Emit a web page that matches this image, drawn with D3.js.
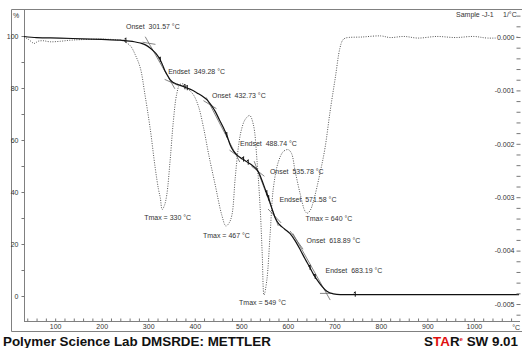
<!DOCTYPE html>
<html>
<head>
<meta charset="utf-8">
<script src="https://cdn.jsdelivr.net/npm/d3@7"></script>
<style>
  body { margin: 0; background: #fff; }
  svg { display: block; font-family: "Liberation Sans", Arial, sans-serif; }
  .ann { font-size: 7px; fill: #333; }
  .tick text { font-size: 7px; fill: #333; font-family: "Liberation Sans", Arial, sans-serif; }
  .tick line { stroke: #777; }
  .right .tick text { stroke: #fff; stroke-width: 3px; paint-order: stroke; }
</style>
</head>
<body>
<div id="chart"></div>
<script>
// TGA / DTG curve of sample J-1

// weight loss curve (%)
const tgaTemp = [33, 60, 110, 160, 200, 240, 254, 270, 283, 295, 304, 312, 318.6, 325.8, 331, 336.5, 342, 347, 354, 361.6,
  372, 383, 394, 404.7, 416, 426, 435, 444, 453, 462, 469, 476, 483, 490.6, 503, 515.6, 525, 533.6, 539, 544,
  551, 558.7, 566, 573, 582, 593, 605, 616, 626.8, 637, 648, 655, 662.7, 673, 684, 698, 712.8, 750, 900, 1097];
const tgaWeight = [99.8, 99.4, 99.2, 98.9, 98.7, 98.4, 98.1, 97.8, 97.3, 96.5, 95.4, 94.1, 92.8, 90.9, 88.8, 86.4, 84.7, 83.2, 82.1, 81.5,
  80.8, 80.0, 79.2, 78.1, 76.9, 75.5, 73.5, 71.0, 67.8, 64.6, 61.8, 58.2, 55.8, 54.3, 52.7, 51.2, 50.0, 48.6, 46.9, 44.7,
  41.3, 37.7, 33.6, 30.0, 27.5, 25.8, 24.0, 21.2, 17.8, 14.3, 10.8, 8.4, 6.3, 3.8, 1.8, 0.8, 0.5, 0.5, 0.5, 0.5];

// derivative curve (1/°C)
const dtgTemp = [33, 42, 55, 63, 74, 89, 111, 132, 154, 197, 229, 246, 254, 263, 272, 283, 293, 304, 315, 322,
  326, 330, 335, 340, 347, 354, 361, 368, 376, 383, 397, 408, 419, 430, 444, 458, 467, 474, 480, 487,
  494, 500, 508, 518, 526, 534, 541, 545, 549, 555, 562, 569, 580, 591, 601, 608, 616, 627, 637, 642,
  648, 655, 670, 680, 691, 702, 712, 718, 724, 760, 800, 820, 850, 880, 920, 960, 1000, 1030, 1097];
const dtgRate = [0, -0.00004, -0.00012, -0.00008, -0.00007, -0.00009, -0.00008, -0.00006, -0.00005, -0.00004, -0.00005, -0.00007, -0.00011, -0.00018, -0.00033, -0.00058, -0.00108, -0.00170, -0.00245, -0.00285,
  -0.00301, -0.00323, -0.00315, -0.00295, -0.00232, -0.00158, -0.00108, -0.00089, -0.00088, -0.00095, -0.00108, -0.00130, -0.00170, -0.00220, -0.00277, -0.00333, -0.00354, -0.00348, -0.00333, -0.00264,
  -0.00205, -0.00175, -0.00155, -0.00147, -0.00164, -0.00233, -0.00326, -0.00405, -0.00483, -0.00455, -0.00370, -0.00283, -0.00233, -0.00214, -0.00211, -0.00218, -0.00252, -0.00295, -0.00326, -0.00330,
  -0.00325, -0.00308, -0.00252, -0.00208, -0.00139, -0.00077, -0.00021, -0.00006, -0.00002, 0, 0.00002, -0.00001, 0.00001, -0.00002, 0.00001, -0.00001, 0.00001, -0.00002, 0];

// step evaluation
const onsetTemps = [301.57, 432.73, 535.78, 618.89];
const endsetTemps = [349.28, 488.74, 571.58, 683.19];
const onsetWeight = [97.2, 73.6, 48.0, 21.5];
const endsetWeight = [82.2, 54.3, 30.8, 1.0];
const slopeBefore = [-0.03, -0.11, -0.14, -0.25];
const slopeAfter = [-0.08, -0.13, -0.19, 0];
const tmaxTemps = [330, 467, 549, 640];
const markTemps = [252, 326, 379, 384, 469, 505, 515, 555, 559, 648, 659, 745];

const xTickLabels = [100, 200, 300, 400, 500, 600, 700, 800, 900, 1000];

const W = 522, H = 348;
const svg = d3.select('#chart').append('svg')
  .attr('width', W)
  .attr('height', H);

const x = d3.scaleLinear().domain([33, 1097]).range([24, 519]);
const yW = d3.scaleLinear().domain([0, 100]).range([296, 36]);
const yD = d3.scaleLinear().domain([-0.005, 0]).range([304, 37]);

const interp = (xs, ys, t) => {
  const i = Math.max(1, Math.min(xs.length - 1, d3.bisectLeft(xs, t)));
  const f = (t - xs[i - 1]) / (xs[i] - xs[i - 1]);
  return ys[i - 1] + f * (ys[i] - ys[i - 1]);
};

// frame
const frame = svg.append('g').attr('stroke', '#808080').attr('fill', 'none');
frame.append('path').attr('d', 'M522,9.5H11.5V331.5H522');
frame.append('line').attr('x1', 24.5).attr('x2', 24.5).attr('y1', 9).attr('y2', 321);
frame.append('line').attr('x1', 24).attr('x2', 520).attr('y1', 321.5).attr('y2', 321.5);

// x axis (ticks every 20 °C pointing up)
const xAxis = svg.append('g')
  .attr('transform', 'translate(0,321.5)')
  .call(d3.axisBottom(x)
    .tickValues(d3.range(40, 1097, 20))
    .tickSizeInner(-3).tickSizeOuter(0).tickPadding(3)
    .tickFormat(d => xTickLabels.includes(d) ? d : ''));
xAxis.select('.domain').remove();
svg.append('text').attr('class', 'ann').attr('x', 520).attr('y', 330)
  .attr('text-anchor', 'end').text('°C');

// left axis (%)
const yAxisL = svg.append('g')
  .attr('transform', 'translate(24.5,0)')
  .call(d3.axisLeft(yW)
    .tickValues(d3.range(0, 101, 10))
    .tickSizeInner(3).tickSizeOuter(0).tickPadding(3)
    .tickFormat(d => d % 20 === 0 ? d : ''));
yAxisL.select('.domain').remove();

// header texts
svg.append('text').attr('class', 'ann').attr('x', 13).attr('y', 18).text('%');
svg.append('text').attr('class', 'ann').attr('x', 456).attr('y', 17).text('Sample -J-1');
svg.append('text').attr('class', 'ann').attr('x', 503).attr('y', 17).text('1/°C');

// DTG dotted curve
const dtgPts = dtgTemp.map((t, i) => [t, dtgRate[i]]);
svg.append('path')
  .datum(dtgPts)
  .attr('fill', 'none')
  .attr('stroke', '#555')
  .attr('stroke-width', 1)
  .attr('stroke-dasharray', '1,1.4')
  .attr('d', d3.line().x(d => x(d[0])).y(d => yD(d[1])).curve(d3.curveCatmullRom));

// tangents of the step evaluation
const tang = svg.append('g').attr('stroke', '#666').attr('stroke-width', 0.8);
onsetTemps.forEach((t0, i) => {
  const t1 = endsetTemps[i], v0 = onsetWeight[i], v1 = endsetWeight[i];
  const s = (v1 - v0) / (t1 - t0);
  tang.append('line')
    .attr('x1', x(t0 - 8)).attr('y1', yW(v0 - 8 * s))
    .attr('x2', x(t1 + 8)).attr('y2', yW(v1 + 8 * s));
  tang.append('line')
    .attr('x1', x(t0 - 14)).attr('y1', yW(v0 - 14 * slopeBefore[i]))
    .attr('x2', x(t0 + 14)).attr('y2', yW(v0 + 14 * slopeBefore[i]));
  tang.append('line')
    .attr('x1', x(t1 - 14)).attr('y1', yW(v1 - 14 * slopeAfter[i]))
    .attr('x2', x(t1 + 14)).attr('y2', yW(v1 + 14 * slopeAfter[i]));
});

// TGA solid curve
const tgaPts = tgaTemp.map((t, i) => [t, tgaWeight[i]]);
svg.append('path')
  .datum(tgaPts)
  .attr('fill', 'none')
  .attr('stroke', '#111')
  .attr('stroke-width', 1.2)
  .attr('d', d3.line().x(d => x(d[0])).y(d => yW(d[1])).curve(d3.curveMonotoneX));

// small evaluation marks on the curve
svg.append('g').selectAll('path')
  .data(markTemps)
  .enter()
  .append('path')
  .attr('fill', 'none')
  .attr('stroke', '#111')
  .attr('stroke-width', 1)
  .attr('d', t => {
    const px = x(t), py = yW(interp(tgaTemp, tgaWeight, t));
    return `M${px},${py - 3}L${px},${py + 2}M${px - 1.5},${py - 1.5}L${px},${py - 3}`;
  });

// right axis (1/°C), ticks inward, drawn over the curves
const fmtD = d => Math.abs(d) < 1e-9 ? '0.000' : d3.format('.3f')(d).replace('\u2212', '-');
const yAxisR = svg.append('g')
  .attr('class', 'right')
  .attr('transform', 'translate(520.5,0)')
  .call(d3.axisLeft(yD)
    .tickValues(d3.range(-26, 3).map(i => i * 0.0002))
    .tickSizeInner(4).tickSizeOuter(0).tickPadding(2)
    .tickFormat(d => Math.abs(d * 1000 - Math.round(d * 1000)) < 1e-6 ? fmtD(d) : ''));
yAxisR.select('.domain').remove();

// labels
const sp = '\u00a0\u00a0';
const onsetOff = [[-23, -14], [2, -7], [12, 3], [10, 3]];
const endsetOff = [[-3, -8], [4, -9], [5, -14], [-1, -20]];
const tmaxOff = [[-18, 11], [-23, 12], [-25, 10], [-1, 9]];
const ann = svg.append('g');
onsetTemps.forEach((t, i) => {
  ann.append('text').attr('class', 'ann')
    .attr('x', x(t) + onsetOff[i][0]).attr('y', yW(onsetWeight[i]) + onsetOff[i][1])
    .text(`Onset${sp}${t.toFixed(2)} °C`);
});
endsetTemps.forEach((t, i) => {
  ann.append('text').attr('class', 'ann')
    .attr('x', x(t) + endsetOff[i][0]).attr('y', yW(endsetWeight[i]) + endsetOff[i][1])
    .text(`Endset${sp}${t.toFixed(2)} °C`);
});
tmaxTemps.forEach((t, i) => {
  ann.append('text').attr('class', 'ann')
    .attr('x', x(t) + tmaxOff[i][0]).attr('y', yD(interp(dtgTemp, dtgRate, t)) + tmaxOff[i][1])
    .text(`Tmax = ${t} °C`);
});

// footer
svg.append('text')
  .attr('x', 3).attr('y', 346)
  .style('font-size', '13.4px').style('font-weight', 'bold').attr('fill', '#111')
  .text('Polymer Science Lab DMSRDE: METTLER');
const star = svg.append('text')
  .attr('x', 518).attr('y', 346).attr('text-anchor', 'end')
  .style('font-size', '13.4px').style('font-weight', 'bold').attr('fill', '#111');
star.append('tspan').text('S');
star.append('tspan').attr('fill', '#e01010').text('TA');
star.append('tspan').text('R');
star.append('tspan').attr('fill', '#e01010').attr('dy', -5).style('font-size', '6px').text('e');
star.append('tspan').attr('dy', 5).text(' SW 9.01');
</script>
</body>
</html>
